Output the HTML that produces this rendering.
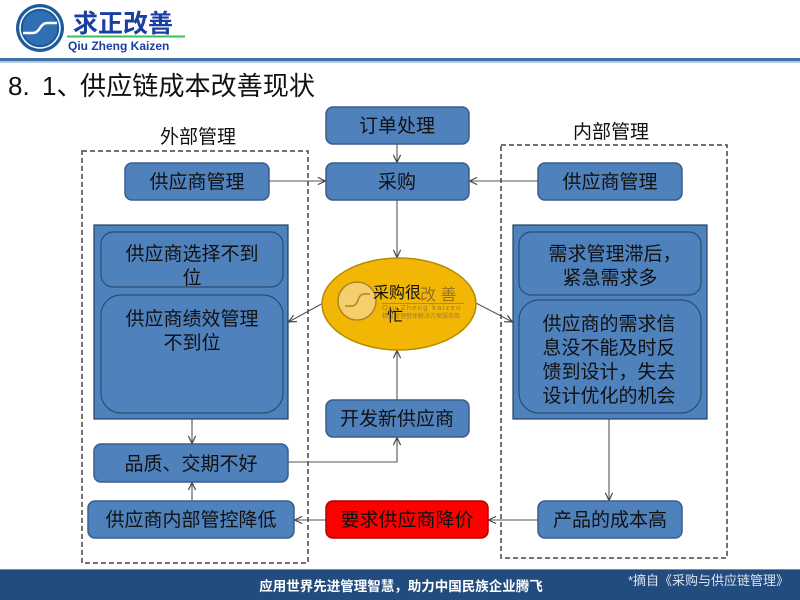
<!DOCTYPE html>
<html>
<head>
<meta charset="utf-8">
<style>
html,body{margin:0;padding:0;background:#fff;}
body{width:800px;height:600px;overflow:hidden;}
svg{display:block;}
text{font-family:"Liberation Sans","Noto Sans CJK SC",sans-serif;}
</style>
</head>
<body>
<svg width="800" height="600" viewBox="0 0 800 600" xmlns="http://www.w3.org/2000/svg">
<defs>
<marker id="ar" viewBox="0 0 10 10" refX="9.5" refY="5" markerWidth="9" markerHeight="9" markerUnits="userSpaceOnUse" orient="auto">
<path d="M1,1 L9.5,5 L1,9" fill="none" stroke="#444" stroke-width="1.3"/>
</marker>
</defs>

<!-- Header -->
<circle cx="40" cy="28" r="24" fill="#1d5b9e"/>
<circle cx="40" cy="28" r="20" fill="none" stroke="#fff" stroke-width="1.5"/>
<circle cx="40" cy="28" r="17" fill="#2f6fb4"/>
<path d="M23,33 L33,33 Q37,33 40,28 Q43,23 47,23 L57,23" fill="none" stroke="#fff" stroke-width="2.5"/>
<text x="73" y="32" font-size="25" font-weight="bold" fill="#1b3fa0">求正改善</text>
<rect x="67" y="35.5" width="118" height="2" fill="#3cc05a"/>
<text x="68" y="50" font-size="12" font-weight="bold" fill="#1b3fa0">Qiu Zheng Kaizen</text>
<rect x="0" y="58" width="800" height="3" fill="#3f6fa6"/>
<rect x="0" y="61" width="800" height="2" fill="#b3c7df"/>
<text x="8" y="95" font-size="26" fill="#111">8.</text>
<text x="42" y="95" font-size="26" fill="#111">1、</text>
<text x="80" y="95" font-size="26" fill="#111" textLength="235" lengthAdjust="spacingAndGlyphs">供应链成本改善现状</text>

<!-- Dashed group boxes -->
<rect x="82" y="151" width="226" height="412" fill="none" stroke="#444" stroke-width="1.5" stroke-dasharray="5,3"/>
<rect x="501" y="145" width="226" height="413" fill="none" stroke="#444" stroke-width="1.5" stroke-dasharray="5,3"/>
<text x="198" y="143" font-size="19" fill="#111" text-anchor="middle">外部管理</text>
<text x="611" y="138" font-size="19" fill="#111" text-anchor="middle">内部管理</text>

<!-- Connectors -->
<g stroke="#555" stroke-width="1.1" fill="none" marker-end="url(#ar)">
<line x1="397" y1="144" x2="397" y2="162.5"/>
<line x1="397" y1="200" x2="397" y2="257.5"/>
<line x1="397" y1="400" x2="397" y2="350.5"/>
<polyline points="288,462 397,462 397,437.5"/>
<line x1="269" y1="181" x2="325.5" y2="181"/>
<line x1="538" y1="181" x2="469.5" y2="181"/>
<line x1="325" y1="302" x2="288.5" y2="322"/>
<line x1="474" y1="302" x2="512.5" y2="322"/>
<line x1="192" y1="419" x2="192" y2="443.5"/>
<line x1="192" y1="501" x2="192" y2="482.5"/>
<line x1="609" y1="419" x2="609" y2="500.5"/>
<line x1="538" y1="520" x2="488.5" y2="520"/>
<line x1="326" y1="520" x2="294.5" y2="520"/>
</g>

<!-- Center column -->
<g stroke="#385d8a" stroke-width="1.5" fill="#4f81bd">
<rect x="326" y="107" width="143" height="37" rx="7"/>
<rect x="326" y="163" width="143" height="37" rx="7"/>
<rect x="125" y="163" width="144" height="37" rx="7"/>
<rect x="538" y="163" width="144" height="37" rx="7"/>
<rect x="326" y="400" width="143" height="37" rx="7"/>
<rect x="94" y="444" width="194" height="38" rx="7"/>
<rect x="88" y="501" width="206" height="37" rx="7"/>
<rect x="538" y="501" width="144" height="37" rx="7"/>
</g>
<rect x="326" y="501" width="162" height="37" rx="7" fill="#ff0000" stroke="#b00000" stroke-width="1.5"/>

<!-- Left container -->
<rect x="94" y="225" width="194" height="194" fill="#4f81bd" stroke="#243f60" stroke-width="1.2"/>
<rect x="101" y="232" width="182" height="55" rx="12" fill="#4f81bd" stroke="#2c4d75" stroke-width="1.2"/>
<rect x="101" y="295" width="182" height="118" rx="20" fill="#4f81bd" stroke="#2c4d75" stroke-width="1.2"/>

<!-- Right container -->
<rect x="513" y="225" width="194" height="194" fill="#4f81bd" stroke="#243f60" stroke-width="1.2"/>
<rect x="519" y="232" width="182" height="63" rx="12" fill="#4f81bd" stroke="#2c4d75" stroke-width="1.2"/>
<rect x="519" y="300" width="182" height="113" rx="20" fill="#4f81bd" stroke="#2c4d75" stroke-width="1.2"/>

<!-- Ellipse -->
<ellipse cx="399" cy="304" rx="77" ry="46" fill="#f2b705" stroke="#b88a00" stroke-width="1.5"/>
<!-- watermark -->
<g opacity="0.75">
<circle cx="357" cy="301" r="19" fill="#f6d88e" stroke="#9a7430" stroke-width="1.5"/>
<path d="M345,306 L352,306 Q356,306 358,300 Q360,294 364,294 L370,294" fill="none" stroke="#9a7430" stroke-width="1.5"/>
<text x="420" y="300" font-size="16" fill="#7a5a2a">改 善</text>
<rect x="382" y="303" width="82" height="1" fill="#9a7a4a"/>
<text x="382" y="310" font-size="7.5" fill="#8a6a3a" letter-spacing="1.3">Qiu Zheng kaizen</text>
<text x="382" y="318" font-size="6" fill="#8a6a3a">精益管理整体解决方案服务商</text>
</g>
<text x="397" y="298" font-size="16" fill="#111" text-anchor="middle">采购很</text>
<text x="395" y="321" font-size="16" fill="#111" text-anchor="middle">忙</text>

<!-- Box labels -->
<g font-size="19" fill="#111" text-anchor="middle">
<text x="397" y="132">订单处理</text>
<text x="397" y="188">采购</text>
<text x="197" y="188">供应商管理</text>
<text x="610" y="188">供应商管理</text>
<text x="397" y="425">开发新供应商</text>
<text x="191" y="470">品质、交期不好</text>
<text x="191" y="526">供应商内部管控降低</text>
<text x="407" y="526">要求供应商降价</text>
<text x="610" y="526">产品的成本高</text>

<text x="192" y="260">供应商选择不到</text>
<text x="192" y="284">位</text>
<text x="192" y="325">供应商绩效管理</text>
<text x="192" y="349">不到位</text>

<text x="615" y="260">需求管理滞后，</text>
<text x="610" y="284">紧急需求多</text>
<text x="609" y="330">供应商的需求信</text>
<text x="609" y="354">息没不能及时反</text>
<text x="609" y="378">馈到设计，失去</text>
<text x="609" y="402">设计优化的机会</text>
</g>

<!-- Footer -->
<rect x="0" y="569" width="800" height="31" fill="#224b7e"/>
<rect x="0" y="569" width="800" height="1" fill="#6f90b8"/>
<text x="401" y="591" font-size="13.5" font-weight="bold" fill="#fff" text-anchor="middle">应用世界先进管理智慧，助力中国民族企业腾飞</text>
<text x="628" y="585" font-size="13" fill="#dde4ee">*摘自《采购与供应链管理》</text>
</svg>
</body>
</html>
